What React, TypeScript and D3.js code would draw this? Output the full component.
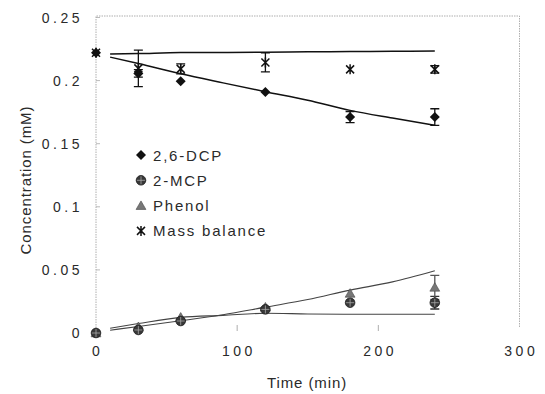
import React from "react";
import * as d3 from "d3";

// measured points (min, mM)
const times = [0, 30, 60, 120, 180, 240];
const dcp = [0.222, 0.2057, 0.1994, 0.1909, 0.1711, 0.1711];
const dcpErr = [0, 0.003, 0, 0, 0.0044, 0.0066];
const mcp = [0, 0.0024, 0.0095, 0.0187, 0.024, 0.024];
const mcpErr = [0, 0, 0, 0, 0, 0.005];
const phenol = [0, 0.005, 0.0125, 0.0205, 0.0314, 0.0362];
const phenolErr = [0, 0, 0, 0, 0, 0.0095];
const massBal = [0.222, 0.2097, 0.2093, 0.2144, 0.2089, 0.2089];
const massBalErr = [0, 0.0145, 0.004, 0.0075, 0, 0.003];

// model curves
const modelTimes = [10, 30, 60, 90, 120, 150, 180, 210, 240];
const massBalModel = [0.221, 0.2214, 0.2222, 0.2222, 0.2225, 0.2228, 0.223, 0.2232, 0.2235];
const dcpModel = [0.2186, 0.2135, 0.2054, 0.1982, 0.1912, 0.1845, 0.1764, 0.1703, 0.1646];
const phenolModel = [0.0022, 0.0052, 0.0097, 0.0145, 0.0205, 0.0265, 0.034, 0.0405, 0.0493];
const mcpModel = [0.0038, 0.0075, 0.0124, 0.014, 0.0156, 0.0151, 0.0148, 0.0148, 0.0148];

const xTicks = [0, 100, 200, 300];
const yTicks = [0, 0.05, 0.1, 0.15, 0.2, 0.25];
const legendLabels = ["2,6-DCP", "2-MCP", "Phenol", "Mass balance"];

const W = 545;
const H = 394;
const font = "'Liberation Sans', Arial, sans-serif";

const x = d3.scaleLinear().domain([0, 300]).range([96, 519.5]);
const y = d3.scaleLinear().domain([0, 0.25]).range([333, 17.5]);

const line = d3
  .line<[number, number]>()
  .x((d) => x(d[0]))
  .y((d) => y(d[1]))
  .curve(d3.curveMonotoneX);

const diamond = d3.symbol(d3.symbolDiamond2, 64)()!;
const triangle = d3.symbol(d3.symbolTriangle, 42)()!;

const Diamond = ({ cx, cy }) => (
  <path d={diamond} transform={`translate(${cx},${cy})`} fill="#111" />
);
const Mcp = ({ cx, cy }) => (
  <g transform={`translate(${cx},${cy})`}>
    <circle r={4.8} fill="#383838" stroke="#1a1a1a" strokeWidth={0.8} />
    <path d="M-4,0H4M0,-4V4" stroke="#aaa" strokeWidth={0.8} />
  </g>
);
const Tri = ({ cx, cy }) => (
  <path d={triangle} transform={`translate(${cx},${cy + 1})`} fill="#777" stroke="#444" strokeWidth={0.6} />
);
const Star = ({ cx, cy }) => (
  <path
    d="M-4,-4L4,4M-4,4L4,-4M0,-5V5"
    transform={`translate(${cx},${cy})`}
    stroke="#111"
    strokeWidth={1.5}
  />
);

const ErrBar = ({ t, v, e, color = "#111" }) =>
  e > 0 ? (
    <path
      d={`M${x(t)},${y(v + e)}V${y(v - e)}M${x(t) - 4.5},${y(v + e)}h9M${x(t) - 4.5},${y(v - e)}h9`}
      stroke={color}
      strokeWidth={1.3}
      fill="none"
    />
  ) : null;

export default function App() {
  const zip = (vals: number[]) => modelTimes.map((t, i) => [t, vals[i]] as [number, number]);
  const legendMarks = [Diamond, Mcp, Tri, Star];
  return (
    <svg
      width={W}
      height={H}
      style={{ position: "absolute", left: 0, top: 0, background: "#fff" }}
      fontFamily={font}
    >
      <rect width={W} height={H} fill="#fff" />
      {/* frame */}
      <path
        d={`M${x(0)},${y(0)}V${y(0.25) - 1.5}H${x(300)}V${y(0.004)}`}
        fill="none"
        stroke="#9a9a9a"
        strokeWidth={0.8}
        strokeDasharray="1.5,1"
      />
      {yTicks.map((t) => (
        <g key={t}>
          <line x1={x(0)} x2={x(0) + 4} y1={y(t)} y2={y(t)} stroke="#aaa" strokeWidth={0.8} />
          <text
            x={83}
            y={y(t) + 5}
            textAnchor="end"
            fontSize={14}
            letterSpacing={3.5}
            fill="#2a2a2a"
          >
            {t === 0 ? "0" : String(t)}
          </text>
        </g>
      ))}
      {xTicks.map((t) => (
        <g key={t}>
          {t > 0 && t < 300 && (
            <line x1={x(t)} x2={x(t)} y1={325} y2={331} stroke="#999" strokeWidth={0.8} />
          )}
          <text x={x(t) + 1.75} y={356} textAnchor="middle" fontSize={14} letterSpacing={3.5} fill="#2a2a2a">
            {t}
          </text>
        </g>
      ))}
      <text x={307} y={388} textAnchor="middle" fontSize={15} letterSpacing={0.9} fill="#2a2a2a">
        Time (min)
      </text>
      <text
        transform={`translate(31,180) rotate(-90)`}
        textAnchor="middle"
        fontSize={15}
        letterSpacing={0.9}
        fill="#2a2a2a"
      >
        Concentration (mM)
      </text>

      {/* model lines */}
      <path d={line(zip(massBalModel))!} fill="none" stroke="#111" strokeWidth={1.5} />
      <path d={line(zip(dcpModel))!} fill="none" stroke="#111" strokeWidth={1.5} />
      <path d={line(zip(phenolModel))!} fill="none" stroke="#444" strokeWidth={1.1} />
      <path d={line(zip(mcpModel))!} fill="none" stroke="#444" strokeWidth={1.1} />

      {/* error bars */}
      {times.map((t, i) => (
        <g key={"e" + t}>
          <ErrBar t={t} v={dcp[i]} e={dcpErr[i]} />
          <ErrBar t={t} v={massBal[i]} e={massBalErr[i]} />
          <ErrBar t={t} v={mcp[i]} e={mcpErr[i]} color="#333" />
          <ErrBar t={t} v={phenol[i]} e={phenolErr[i]} color="#555" />
        </g>
      ))}

      {/* markers */}
      {times.map((t, i) => (
        <g key={"m" + t}>
          <Tri cx={x(t)} cy={y(phenol[i])} />
          <Mcp cx={x(t)} cy={y(mcp[i])} />
          <Diamond cx={x(t)} cy={y(dcp[i])} />
          <Star cx={x(t)} cy={y(massBal[i])} />
        </g>
      ))}

      {/* legend */}
      {legendLabels.map((label, i) => {
        const Mark = legendMarks[i];
        const ly = 155 + i * 25.3;
        return (
          <g key={label}>
            <Mark cx={141} cy={ly} />
            <text x={153} y={ly + 5.5} fontSize={15} letterSpacing={1.8} fill="#2a2a2a">
              {label}
            </text>
          </g>
        );
      })}
    </svg>
  );
}
